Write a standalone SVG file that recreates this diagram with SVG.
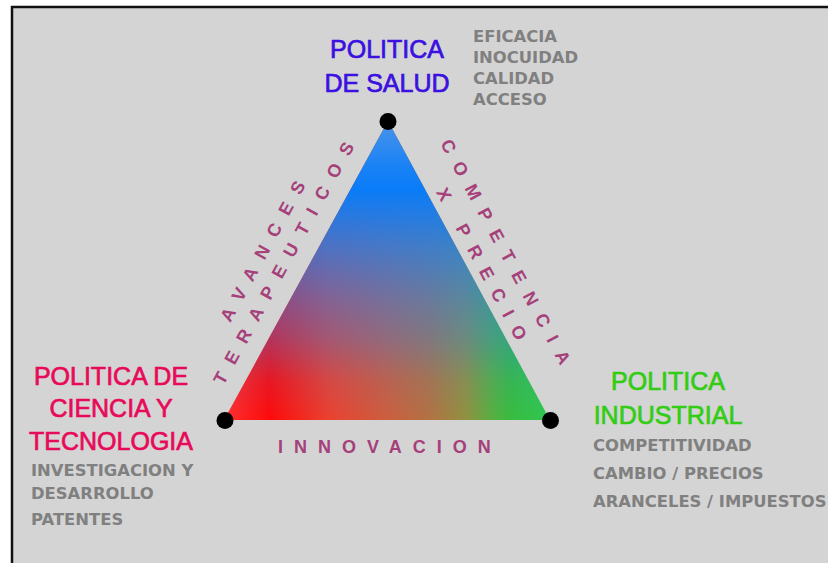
<svg xmlns="http://www.w3.org/2000/svg" width="828" height="563" viewBox="0 0 828 563">
  <defs>
    <linearGradient id="baseGrad" gradientUnits="userSpaceOnUse" x1="224" y1="0" x2="550" y2="0">
      <stop offset="0" stop-color="#ff3030"/>
      <stop offset="0.14" stop-color="#ff0a0a"/>
      <stop offset="0.325" stop-color="#ea4230"/>
      <stop offset="0.5" stop-color="#cc5e3e"/>
      <stop offset="0.63" stop-color="#b27242"/>
      <stop offset="0.74" stop-color="#929040"/>
      <stop offset="0.82" stop-color="#5aae40"/>
      <stop offset="0.88" stop-color="#38bc40"/>
      <stop offset="1" stop-color="#30c850"/>
    </linearGradient>
    <linearGradient id="blueGrad" gradientUnits="userSpaceOnUse" x1="0" y1="121" x2="0" y2="420">
      <stop offset="0" stop-color="#4a94ea" stop-opacity="1"/>
      <stop offset="0.15" stop-color="#1a82f5" stop-opacity="1"/>
      <stop offset="0.23" stop-color="#0a7cf8" stop-opacity="1"/>
      <stop offset="0.43" stop-color="#2080ee" stop-opacity="0.76"/>
      <stop offset="0.6" stop-color="#2a80ea" stop-opacity="0.53"/>
      <stop offset="0.73" stop-color="#2a80ea" stop-opacity="0.36"/>
      <stop offset="0.87" stop-color="#2a80ea" stop-opacity="0.11"/>
      <stop offset="1" stop-color="#2a80ea" stop-opacity="0"/>
    </linearGradient>
  </defs>
  <style>
    .title { font-family: "Liberation Sans", Arial, sans-serif; font-size: 25px; text-anchor: middle; stroke-width: 0.7px; }
    .salud { fill: #3b10e0; stroke: #3b10e0; }
    .ciencia { fill: #e80a5a; stroke: #e80a5a; }
    .industrial { fill: #33cc14; stroke: #33cc14; }
    .sub { font-family: "DejaVu Sans", Verdana, sans-serif; font-weight: bold; font-size: 16.4px; fill: #808080; }
    .edge { font-family: "Liberation Sans", Arial, sans-serif; font-weight: bold; font-size: 18px; fill: #a5407a; letter-spacing: 12px; }
    .dot { fill: #000; }
  </style>

  <rect x="12" y="7" width="830" height="570" fill="#d4d4d4" stroke="#111" stroke-width="2.5"/>

  <g id="connectors">
    <polygon points="388,121 224,420 550,420" fill="url(#baseGrad)"/>
    <polygon points="388,121 224,420 550,420" fill="url(#blueGrad)"/>
    <text class="edge" text-anchor="middle" transform="translate(271,249) rotate(-61.3)">AVANCES</text>
    <text class="edge" text-anchor="middle" transform="translate(292,261) rotate(-61.3)">TERAPEUTICOS</text>
    <text class="edge" text-anchor="middle" transform="translate(503,260) rotate(61.6)">COMPETENCIA</text>
    <text class="edge" text-anchor="middle" transform="translate(479,272) rotate(61.6)">X PRECIO</text>
    <text class="edge" x="278" y="453" style="letter-spacing:11px">INNOVACION</text>
  </g>

  <g id="node-salud">
    <circle class="dot" cx="388" cy="121.5" r="8.5"/>
    <text class="title salud" x="387" y="58">POLITICA</text>
    <text class="title salud" x="387" y="92">DE SALUD</text>
    <text class="sub" x="473" y="42">EFICACIA</text>
    <text class="sub" x="473" y="63">INOCUIDAD</text>
    <text class="sub" x="473" y="84">CALIDAD</text>
    <text class="sub" x="473" y="105">ACCESO</text>
  </g>

  <g id="node-ciencia">
    <circle class="dot" cx="225" cy="420.5" r="8.5"/>
    <text class="title ciencia" x="111" y="385">POLITICA DE</text>
    <text class="title ciencia" x="111" y="417">CIENCIA Y</text>
    <text class="title ciencia" x="111" y="450">TECNOLOGIA</text>
    <text class="sub" x="31" y="476">INVESTIGACION Y</text>
    <text class="sub" x="31" y="499">DESARROLLO</text>
    <text class="sub" x="31" y="525">PATENTES</text>
  </g>

  <g id="node-industrial">
    <circle class="dot" cx="550.5" cy="420.5" r="8.5"/>
    <text class="title industrial" x="668" y="390">POLITICA</text>
    <text class="title industrial" x="668" y="424">INDUSTRIAL</text>
    <text class="sub" x="593" y="451">COMPETITIVIDAD</text>
    <text class="sub" x="593" y="479">CAMBIO / PRECIOS</text>
    <text class="sub" x="593" y="507">ARANCELES / IMPUESTOS</text>
  </g>
</svg>
